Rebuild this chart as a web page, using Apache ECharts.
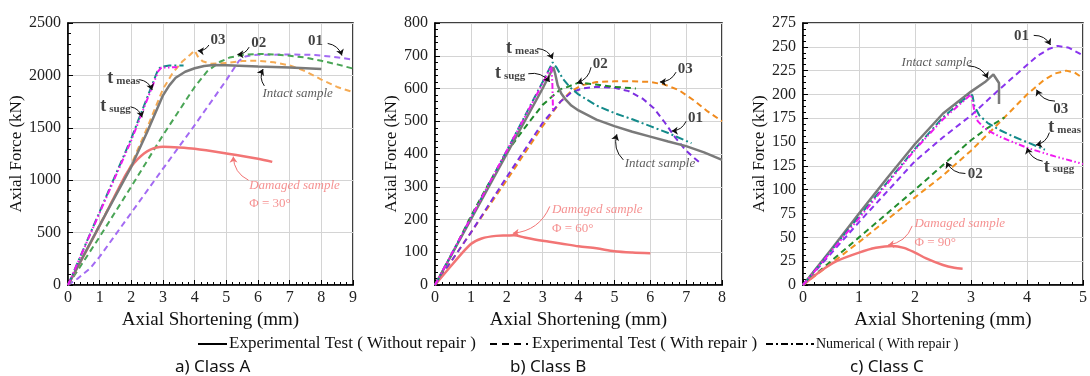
<!DOCTYPE html>
<html>
<head>
<meta charset="utf-8">
<script src="https://cdn.jsdelivr.net/npm/echarts@6/dist/echarts.min.js"></script>
<style>
  html, body { margin: 0; padding: 0; background: #fff; }
  #chart { width: 1090px; height: 376px; }
</style>
</head>
<body>
<div id="chart"></div>
<script>
// ---- data: [axial shortening (mm), axial force (kN)] ----
// a) Class A
const aIntact  = [[0,0],[1,570],[2,1130],[2.5,1460],[3,1810],[3.2,1905],[3.4,1978],[3.7,2035],[4,2068],[4.3,2090],[4.6,2100],[5,2098],[6,2085],[7,2075],[8,2062]];
const aDamaged = [[0,0],[1,565],[1.8,1040],[2,1130],[2.2,1200],[2.4,1255],[2.6,1292],[2.8,1312],[3,1318],[3.5,1312],[4,1300],[5,1255],[6,1205],[6.45,1175]];
const aMeas    = [[0,0],[1,700],[2,1400],[2.85,2060],[2.95,2082],[3.2,2095],[3.65,2095]];
const aSugg    = [[0,0],[1,690],[2,1380],[2.85,2040],[2.95,2075],[3.45,2078]];
const a01      = [[0,0],[0.3,60],[0.7,160],[1,270],[2,690],[3,1110],[4,1525],[5,1955],[5.4,2140],[5.6,2180],[5.8,2192],[6,2196],[7,2200],[7.8,2195],[8.3,2180],[8.7,2165],[9,2150]];
const a02      = [[0,0],[0.2,90],[1,460],[2,940],[3,1430],[4,1890],[4.4,2040],[4.8,2130],[5.1,2170],[5.5,2195],[6,2205],[6.5,2200],[7,2188],[7.5,2170],[8,2140],[8.5,2105],[9,2065]];
const a03      = [[0,0],[1,575],[2,1150],[2.5,1500],[3,1870],[3.3,2020],[3.6,2130],[3.85,2195],[4,2238],[4.1,2180],[4.25,2135],[4.5,2112],[5,2118],[5.5,2138],[6,2140],[6.5,2125],[7,2095],[7.5,2040],[8,1960],[8.5,1890],[9,1840]];
// b) Class B
const bIntact  = [[0,0],[1,200],[2,400],[3,600],[3.3,665],[3.35,645],[3.42,610],[3.52,585],[3.65,565],[3.8,548],[4,533],[4.5,505],[5,485],[5.5,468],[6,453],[6.5,438],[7,424],[7.5,405],[8,382]];
const bDamaged = [[0,0],[0.5,65],[1,125],[1.3,142],[1.7,150],[2,151],[2.2,152],[2.5,145],[3,135],[3.5,127],[4,118],[4.5,112],[5,103],[5.5,99],[6,97]];
const bMeas    = [[0,0],[1,205],[2,410],[3,620],[3.28,680],[3.4,662],[3.55,632],[3.75,605],[4,582],[4.5,548],[5,525],[5.5,506],[6,485],[6.5,464],[7,440],[7.15,433]];
const bSugg    = [[0,0],[1,205],[2,410],[3,615],[3.2,660],[3.24,667],[3.27,620],[3.29,530]];
const b01      = [[0,0],[1,160],[2,330],[3,495],[3.5,560],[3.8,588],[4.1,600],[4.5,605],[5,602],[5.4,592],[5.8,568],[6.1,540],[6.4,497],[6.7,450],[7,410],[7.2,390],[7.4,372]];
const b02      = [[0,0],[0.5,100],[1,210],[1.5,310],[2,405],[2.5,480],[3,550],[3.5,598],[3.7,605],[4,618],[4.5,612],[5,605],[5.6,600]];
const b03      = [[0,0],[1,160],[2,320],[3,485],[3.5,560],[3.8,592],[4.1,610],[4.5,620],[5,622],[5.5,622],[6,620],[6.4,612],[6.8,595],[7.2,565],[7.6,530],[8,500]];
// c) Class C
const cIntact  = [[0,0],[0.5,37],[1,75],[1.5,112],[2,148],[2.5,180],[3,203],[3.25,213],[3.4,221],[3.5,212],[3.5,190]];
const cDamaged = [[0,0],[0.3,14],[0.6,25],[1,34],[1.3,39],[1.6,41],[1.8,39],[2,34],[2.2,28],[2.5,21],[2.7,18],[2.85,17]];
const cMeas    = [[0,0],[1,72],[2,143],[2.5,176],[3,201],[3.03,198],[3.06,188],[3.15,178],[3.3,170],[3.5,163],[3.75,156],[4,150],[4.32,142]];
const cSugg    = [[0,0],[1,70],[2,142],[2.5,174],[3,200],[3.02,195],[3.06,183],[3.12,172],[3.25,164],[3.5,156],[4,144],[4.5,135],[5,127]];
const c01      = [[0,0],[0.5,33],[1,66],[1.5,98],[2,130],[2.5,155],[3,178],[3.5,205],[4,231],[4.2,241],[4.4,248],[4.55,251],[4.75,249],[5,241]];
const c02      = [[0,0],[1,50],[2,100],[2.5,126],[3,152],[3.3,165],[3.6,176]];
const c03      = [[0,0],[1,45],[2,92],[2.5,115],[3,141],[3.5,170],[4,200],[4.3,215],[4.5,222],[4.7,225],[4.85,223],[5,217]];

// axis ranges
const xMax = [9, 8, 5];
const yMax = [2500, 800, 275];
const yStep = [500, 100, 25];
const classLabels = ['a) Class A', 'b) Class B', 'c) Class C'];
const legendNames = ['Experimental Test ( Without repair )', 'Experimental Test ( With repair )', 'Numerical ( With repair )'];

// annotations: text anchor (left-middle), arrow from -> to
const notes = [
  [
    {t: '03', at: [4.5, 2335], from: [4.45, 2290], to: [4.1, 2235]},
    {t: '02', at: [5.79, 2306], from: [5.72, 2270], to: [5.35, 2200]},
    {t: '01', at: [7.58, 2325], from: [8.2, 2305], to: [8.65, 2190]},
    {t: 'Intact sample', at: [6.14, 1830], from: [6.2, 1900], to: [6.16, 2060]},
    {t: 'meas', at: [1.24, 1973], from: [2.25, 1960], to: [2.66, 1860]},
    {t: 'sugg', at: [1.02, 1706], from: [1.98, 1700], to: [2.34, 1600]},
    {t: 'Damaged sample', at: [5.72, 944], from: [5.7, 1000], to: [5.22, 1225], phi: [5.72, 781, '\u03A6 = 30\u00B0']}
  ],
  [
    {t: 'meas', at: [1.98, 723], from: [2.85, 722], to: [3.28, 690]},
    {t: 'sugg', at: [1.67, 646], from: [2.6, 645], to: [3.2, 620]},
    {t: '02', at: [4.4, 674], from: [4.35, 665], to: [3.96, 617]},
    {t: '03', at: [6.77, 659], from: [6.72, 650], to: [6.27, 620]},
    {t: '01', at: [7.05, 509], from: [7.0, 500], to: [6.6, 470]},
    {t: 'Intact sample', at: [5.29, 372], from: [5.25, 382], to: [5.07, 460]},
    {t: 'Damaged sample', at: [3.26, 231], from: [3.2, 240], to: [2.17, 158], phi: [3.26, 173, '\u03A6 = 60\u00B0']}
  ],
  [
    {t: '01', at: [3.77, 261], from: [4.12, 262], to: [4.42, 252]},
    {t: 'Intact sample', at: [1.76, 233], from: [2.95, 230], to: [3.3, 217]},
    {t: '03', at: [4.47, 185], from: [4.5, 193], to: [4.17, 205]},
    {t: 'meas', at: [4.38, 165], from: [4.4, 160], to: [4.16, 147]},
    {t: 'sugg', at: [4.3, 124], from: [4.28, 130], to: [4.0, 144]},
    {t: '02', at: [2.94, 116], from: [2.9, 117], to: [2.56, 129]},
    {t: 'Damaged sample', at: [1.99, 64], from: [1.95, 62], to: [1.52, 42], phi: [1.99, 45, '\u03A6 = 90\u00B0']}
  ]
];

const SERIF = '"Liberation Serif", "DejaVu Serif", serif';
const RED = '#f27575';
const palettes = [
  {purple: '#a36af3', green: '#4aa556', orange: '#f5ab55'},
  {purple: '#7d2fe0', green: '#208a2c', orange: '#f08a1e'},
  {purple: '#8a35ee', green: '#238d2e', orange: '#f3921f'}
];

const chart = echarts.init(document.getElementById('chart'), null, {renderer: 'canvas'});

const grids = [
  {left: 68, top: 23, width: 285, height: 262},
  {left: 435, top: 23, width: 287, height: 262},
  {left: 803, top: 23, width: 288, height: 262}
].map(g => Object.assign(g, {show: true, borderColor: '#000', borderWidth: 1.5}));

const yNameGap = [34, 34, 29];

const xAxes = xMax.map((m, i) => ({
  type: 'value', gridIndex: i, min: 0, max: m, interval: 1,
  name: 'Axial Shortening (mm)', nameLocation: 'middle', nameGap: 22,
  nameTextStyle: {fontFamily: SERIF, fontSize: 19, color: '#111'},
  axisLine: {lineStyle: {color: '#000', width: 1.5}},
  axisTick: {inside: true, length: 5, lineStyle: {color: '#000'}},
  minorTick: {show: true, splitNumber: 5, length: 3, lineStyle: {color: '#000'}},
  axisLabel: {fontFamily: SERIF, fontSize: 16, color: '#222', margin: 5, showMaxLabel: true},
  splitLine: {show: true, lineStyle: {color: '#d4d4d4'}}
}));

const yAxes = yMax.map((m, i) => ({
  type: 'value', gridIndex: i, min: 0, max: m, interval: yStep[i],
  name: 'Axial Force (kN)', nameLocation: 'middle', nameGap: yNameGap[i],
  nameTextStyle: {fontFamily: SERIF, fontSize: 17, color: '#111'},
  axisLine: {show: true, lineStyle: {color: '#000', width: 1.5}},
  axisTick: {inside: true, length: 5, lineStyle: {color: '#000'}},
  minorTick: {show: true, splitNumber: i === 2 ? 4 : 5, length: 3, lineStyle: {color: '#000'}},
  axisLabel: {fontFamily: SERIF, fontSize: 16, color: '#222', margin: 7, formatter: v => String(v)},
  splitLine: {show: true, lineStyle: {color: '#d4d4d4'}}
}));

function line(g, data, color, width, type, smooth) {
  return {
    type: 'line', xAxisIndex: g, yAxisIndex: g, data: data,
    symbol: 'none', smooth: smooth || false,
    lineStyle: {color: color, width: width, type: type},
    silent: true, z: 3
  };
}

const DASH = [6, 4];
const DASHDOT = [8, 3, 2, 3];
const DASHDOTDOT = [6, 2.5, 1.5, 2.5, 1.5, 2.5];

const panels = [
  [aIntact, aDamaged, aMeas, aSugg, a01, a02, a03],
  [bIntact, bDamaged, bMeas, bSugg, b01, b02, b03],
  [cIntact, cDamaged, cMeas, cSugg, c01, c02, c03]
];

const series = [];
panels.forEach((p, g) => {
  const pal = palettes[g];
  series.push(line(g, p[6], pal.orange, 2, DASH));
  series.push(line(g, p[4], pal.purple, 2, DASH));
  series.push(line(g, p[5], pal.green, 2, DASH));
  series.push(line(g, p[1], RED, 2.5, 'solid', 0.3));
  series.push(line(g, p[0], '#7a7a7a', 2.5, 'solid'));
  series.push(line(g, p[2], '#138a8a', 2, DASHDOT));
  series.push(line(g, p[3], '#f019f0', 2, DASHDOTDOT));

  // annotation texts
  const items = [];
  const arrows = [];
  notes[g].forEach(n => {
    let label;
    if (n.t === 'meas' || n.t === 'sugg') {
      label = {formatter: '{t|t} {s|' + n.t + '}'};
    } else if (n.t === 'Intact sample') {
      label = {formatter: n.t, fontFamily: SERIF, fontStyle: 'italic', fontSize: 13, color: '#333'};
    } else if (n.t === 'Damaged sample') {
      label = {formatter: n.t, fontFamily: SERIF, fontStyle: 'italic', fontSize: 13, color: RED};
    } else {
      label = {formatter: n.t, fontFamily: SERIF, fontWeight: 'bold', fontSize: 15, color: '#111'};
    }
    items.push({value: n.at, label: label});
    if (n.phi) {
      items.push({value: [n.phi[0], n.phi[1]], label: {formatter: n.phi[2], fontFamily: SERIF, fontSize: 13, color: RED}});
    }
    arrows.push({
      coords: [n.from, n.to],
      lineStyle: {color: n.t === 'Damaged sample' ? RED : '#111'}
    });
  });
  series.push({
    type: 'scatter', xAxisIndex: g, yAxisIndex: g, data: items,
    symbolSize: 0, silent: true, z: 6,
    label: {
      show: true, position: 'right', distance: 0,
      rich: {
        t: {fontFamily: SERIF, fontWeight: 'bold', fontSize: 18, color: '#111'},
        s: {fontFamily: SERIF, fontWeight: 'bold', fontSize: 11, color: '#111', padding: [5, 0, 0, 0]}
      }
    }
  });
  series.push({
    type: 'lines', coordinateSystem: 'cartesian2d', xAxisIndex: g, yAxisIndex: g,
    data: arrows, symbol: ['none', 'arrow'], symbolSize: 6, silent: true, z: 6,
    lineStyle: {width: 1, curveness: 0.3, opacity: 1}
  });
});

// legend and captions
const graphic = [
  {type: 'line', shape: {x1: 198, y1: 344, x2: 227, y2: 344}, style: {stroke: '#000', lineWidth: 2}},
  {type: 'text', x: 229, y: 344, style: {text: legendNames[0], font: '17px ' + SERIF, fill: '#111', verticalAlign: 'middle'}},
  {type: 'line', shape: {x1: 490, y1: 344, x2: 528, y2: 344}, style: {stroke: '#000', lineWidth: 2, lineDash: [7, 5]}},
  {type: 'text', x: 532, y: 344, style: {text: legendNames[1], font: '17px ' + SERIF, fill: '#111', verticalAlign: 'middle'}},
  {type: 'line', shape: {x1: 766, y1: 344, x2: 814, y2: 344}, style: {stroke: '#000', lineWidth: 2, lineDash: [7, 3, 2, 3]}},
  {type: 'text', x: 816, y: 344, style: {text: legendNames[2], font: '14px ' + SERIF, fill: '#111', verticalAlign: 'middle'}}
];
[175, 510, 850].forEach((x, i) => {
  graphic.push({type: 'text', x: x, y: 367, style: {text: classLabels[i], font: '17px "Noto Sans", sans-serif', fill: '#111', verticalAlign: 'middle'}});
});

chart.setOption({
  animation: false,
  backgroundColor: '#fff',
  textStyle: {fontFamily: SERIF},
  grid: grids,
  xAxis: xAxes,
  yAxis: yAxes,
  series: series,
  graphic: graphic
});
</script>
</body>
</html>
